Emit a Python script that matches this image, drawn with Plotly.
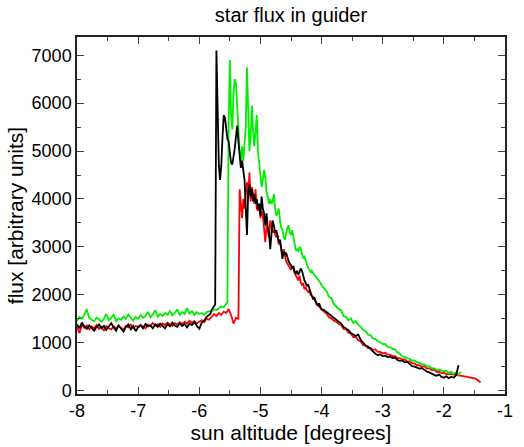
import numpy as np
import plotly.graph_objects as go

# Sun altitude grid: each series is stored as segments (start, step, flux values)
# Black series
BLACK_A_START, BLACK_A_STEP = -8.00, 0.04
BLACK_A = [1380, 1300, 1420, 1340, 1290, 1360, 1310, 1250, 1330, 1380, 1300, 1350, 1270, 1340,
           1410, 1320, 1250, 1360, 1290, 1230, 1330, 1380, 1280, 1350, 1240, 1320, 1370, 1300,
           1390, 1340, 1360, 1300, 1380, 1330, 1400, 1350, 1300, 1390, 1340, 1420, 1360, 1330,
           1410, 1350, 1390, 1320, 1400, 1370, 1430, 1350, 1290, 1420, 1460, 1540, 1570]
BLACK_B_START, BLACK_B_STEP = -5.82, 0.02
BLACK_B = [1600, 1680, 1720, 1760, 1800, 7100, 5800, 4700, 4400, 4700, 5300, 5750, 5700, 5450,
           5250, 5200, 4950, 4750, 4720, 4850, 5050, 5300, 5530, 5200, 4900, 4650, 4800, 4550,
           4400, 3800, 3250, 4150, 4300, 4050, 4200, 3950, 4100, 3900, 4000, 3800, 3900, 3650,
           4050, 3800, 3700, 3450, 3700, 3400, 3300, 2950, 3350, 3550, 3450, 3300, 3350, 3200,
           3100, 3150, 2950, 2750, 2900, 2850, 2880, 2750, 2700, 2650, 2620, 2550, 2600, 2480,
           2450, 2500, 2420, 2480, 2550, 2500, 2380, 2300, 2250, 2180, 2220, 2100, 2050, 1980,
           1920, 1950, 1880, 1800, 1780, 1820, 1750, 1700]
BLACK_C_START, BLACK_C_STEP = -3.96, 0.04
BLACK_C = [1680, 1640, 1600, 1560, 1520, 1490, 1440, 1400, 1330, 1300, 1260, 1200, 1160, 1140,
           1170, 1060, 1000, 940, 920, 870, 800, 770, 740, 760, 720, 730, 700, 710, 680, 690,
           640, 620, 630, 590, 600, 560, 510, 500, 480, 460, 470, 430, 400, 380, 350, 330, 310,
           340, 290, 270, 300, 260, 290, 270, 320, 530]

# Green series
GREEN_A_START, GREEN_A_STEP = -8.00, 0.04
GREEN_A = [1460, 1540, 1500, 1580, 1700, 1520, 1480, 1450, 1520, 1490, 1440, 1500, 1600, 1470,
           1530, 1580, 1450, 1510, 1480, 1550, 1500, 1590, 1520, 1460, 1540, 1500, 1580, 1520,
           1560, 1640, 1530, 1590, 1680, 1540, 1600, 1560, 1620, 1580, 1660, 1570, 1620, 1700,
           1580, 1640, 1600, 1720, 1610, 1660, 1580, 1640, 1600, 1620, 1580, 1640, 1660, 1650,
           1700, 1680, 1720, 1760, 1740, 1820]
GREEN_B_START, GREEN_B_STEP = -5.54, 0.02
GREEN_B = [1850, 5500, 6900, 5800, 5450, 6200, 6500, 6400, 5900, 5300, 5000, 4750, 5100, 4800,
           5300, 5500, 6750, 5600, 5000, 5300, 5950, 5400, 5100, 5400, 5750, 5000, 4700, 4500,
           4250, 4400, 4600, 4450, 4150, 4050, 3900, 4000, 3900, 3950, 4100, 3800, 3650, 3700,
           3800, 3550, 3400, 3350, 3200, 3150, 3300, 3400, 3450, 3300, 3250, 3350, 3200, 3050,
           2920, 2950, 2900, 3000, 2960, 2850, 2780, 2800, 2700, 2620, 2560, 2520, 2480, 2500,
           2450, 2420, 2390, 2360, 2330, 2300, 2250, 2200]
GREEN_C_START, GREEN_C_STEP = -3.96, 0.04
GREEN_C = [2150, 2080, 1960, 1930, 1810, 1760, 1700, 1680, 1550, 1540, 1470, 1510, 1410, 1450,
           1370, 1330, 1270, 1240, 1170, 1160, 1090, 1080, 1030, 1010, 970, 975, 915, 910, 870,
           860, 800, 770, 715, 705, 675, 670, 625, 630, 595, 580, 555, 550, 515, 510, 465, 470,
           435, 440, 415, 405, 410, 375, 395, 355, 375, 335, 390]

# Red series
RED_A_START, RED_A_STEP = -8.00, 0.04
RED_A = [1330, 1200, 1380, 1310, 1360, 1280, 1340, 1300, 1370, 1290, 1330, 1250, 1350, 1300,
         1280, 1340, 1300, 1360, 1310, 1280, 1350, 1320, 1380, 1300, 1350, 1330, 1370, 1340,
         1300, 1380, 1350, 1410, 1360, 1390, 1330, 1400, 1370, 1420, 1380, 1350, 1410, 1380,
         1430, 1390, 1440, 1400, 1460, 1420, 1450, 1400, 1440, 1470, 1430, 1500, 1480, 1540,
         1600, 1560, 1620, 1580, 1650, 1620, 1700, 1580, 1400, 1520, 1500]
RED_B_START, RED_B_STEP = -5.34, 0.02
RED_B = [4200, 3900, 3600, 4000, 3800, 4100, 4350, 4000, 4550, 3950, 4250, 4100, 3900, 4200,
         3800, 3750, 3900, 3600, 3750, 3650, 3400, 3100, 3450, 3350, 3200, 3550, 3400, 3300,
         3350, 3250, 3200, 3250, 3050, 3100, 2920, 2850, 2950, 2800, 2700, 2650, 2600, 2550,
         2520, 2600, 2550, 2450, 2400, 2350, 2300, 2400, 2250, 2200, 2250, 2120, 2150, 2100,
         2060, 2080, 2000, 1980, 1950, 1900, 1860, 1820, 1780, 1750, 1720, 1690]
RED_C_START, RED_C_STEP = -3.96, 0.04
RED_C = [1650, 1610, 1530, 1510, 1460, 1440, 1390, 1370, 1290, 1280, 1210, 1190, 1120, 1120,
         1050, 1030, 950, 940, 890, 890, 850, 860, 810, 810, 780, 790, 750, 750, 720, 720, 680,
         680, 650, 650, 610, 610, 570, 570, 530, 530, 500, 510, 460, 470, 430, 440, 395, 400,
         365, 370, 345, 350, 345, 335, 340, 320, 315, 300, 295, 280, 275, 260, 250, 210, 170]


def build(segments):
    xs, ys = [], []
    for start, step, vals in segments:
        xs.append(start + step * np.arange(len(vals)))
        ys.append(np.asarray(vals, dtype=float))
    return np.concatenate(xs), np.concatenate(ys)


series = [
    ("#ff0000", [(RED_A_START, RED_A_STEP, RED_A), (RED_B_START, RED_B_STEP, RED_B),
                 (RED_C_START, RED_C_STEP, RED_C)]),
    ("#00ee00", [(GREEN_A_START, GREEN_A_STEP, GREEN_A), (GREEN_B_START, GREEN_B_STEP, GREEN_B),
                 (GREEN_C_START, GREEN_C_STEP, GREEN_C)]),
    ("#000000", [(BLACK_A_START, BLACK_A_STEP, BLACK_A), (BLACK_B_START, BLACK_B_STEP, BLACK_B),
                 (BLACK_C_START, BLACK_C_STEP, BLACK_C)]),
]

fig = go.Figure()
for color, segs in series:
    x, y = build(segs)
    fig.add_trace(go.Scatter(x=x, y=y, mode="lines", line=dict(color=color, width=1.8),
                             showlegend=False, hoverinfo="skip"))

FONT = "Liberation Sans, Arial, sans-serif"
axis_common = dict(
    showline=True, linecolor="#222222", linewidth=1.5, mirror="ticks",
    ticks="inside", ticklen=7, tickwidth=1, tickcolor="#444444",
    showgrid=False, zeroline=False,
    tickfont=dict(family=FONT, size=18, color="#000000"),
)

fig.update_layout(
    width=524, height=447,
    margin=dict(l=77, r=11, t=37, b=43),
    paper_bgcolor="white", plot_bgcolor="white",
    title=dict(text="star flux in guider", x=0.5, xref="paper", y=1 - 15 / 447,
               yref="container", yanchor="middle", xanchor="center",
               font=dict(family=FONT, size=20, color="#000000")),
    xaxis=dict(range=[-8, -1], tickmode="array", tickvals=list(range(-8, 0)),
               ticktext=[str(v) for v in range(-8, 0)],
               minor=dict(dtick=0.5, ticks="inside", ticklen=4, tickcolor="#444444"),
               title=dict(text="sun altitude [degrees]", standoff=0,
                          font=dict(family=FONT, size=21, color="#000000")),
               **axis_common),
    yaxis=dict(range=[-70, 7380], tickmode="array", tickvals=list(range(0, 7001, 1000)),
               minor=dict(dtick=500, ticks="inside", ticklen=4, tickcolor="#444444"),
               title=dict(text="flux [arbitrary units]", standoff=2,
                          font=dict(family=FONT, size=21, color="#000000")),
               **axis_common),
)

fig.write_html("out.html")
